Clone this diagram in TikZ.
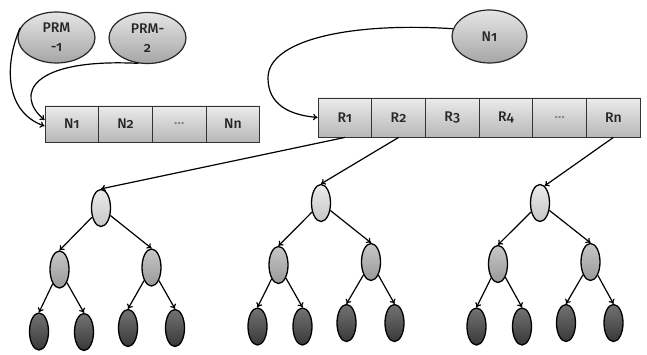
\documentclass[tikz,border=0pt]{standalone}
\usepackage{fontspec}
\setmainfont{Fira Sans}[Numbers=OldStyle, BoldFont={* Medium}]
\usetikzlibrary{arrows.meta,shapes.geometric}
\begin{document}
\begin{tikzpicture}[x=1pt,y=-1pt,
  txt/.style={font=\fontsize{14}{19}\selectfont\bfseries, text=black!85},
  bigell/.style={ellipse, draw=black!85, line width=1.2pt, top color=black!10, bottom color=black!35,
    inner sep=0pt, minimum width=77pt, minimum height=51pt, txt, align=center},
  cell/.style={rectangle, draw=black!80, line width=0.9pt, top color=black!8, bottom color=black!28,
    minimum width=53.7pt, inner sep=0pt, txt},
  tn/.style={ellipse, draw=black, line width=1.3pt, minimum width=19pt, minimum height=37pt, inner sep=0pt},
  lvA/.style={tn, top color=black!8, bottom color=black!22},
  lvB/.style={tn, top color=black!22, bottom color=black!40},
  lvC/.style={tn, top color=black!55, bottom color=black!78},
  arr/.style={-{To[length=4.5pt,width=6.5pt]}, line width=1.2pt, black}
]
\useasboundingbox (0,0) rectangle (647,355);

% top ellipses
\node[bigell] (prm1) at (56.5,37.5) {PRM\\-1};
\node[bigell] (prm2) at (147.5,38) {PRM-\\2};
\node[bigell, minimum width=75pt, minimum height=53pt] (nn) at (489.5,36.5) {N1};

% N array
\node[cell, minimum height=36pt] (c1) at (71.85,124) {N1};
\node[cell, minimum height=36pt] (c2) at (125.55,124) {N2};
\node[cell, minimum height=36pt, text=black!50] (c3) at (179.25,124) {\dots};
\node[cell, minimum height=36pt] (c4) at (232.95,124) {Nn};

% R array
\node[cell, minimum height=39pt] (r1) at (344.85,117.5) {R1};
\node[cell, minimum height=39pt] (r2) at (398.55,117.5) {R2};
\node[cell, minimum height=39pt] (r3) at (452.25,117.5) {R3};
\node[cell, minimum height=39pt] (r4) at (505.95,117.5) {R4};
\node[cell, minimum height=39pt, text=black!50] (r5) at (559.65,117.5) {\dots};
\node[cell, minimum height=39pt] (r6) at (613.35,117.5) {Rn};

% curved arrows
\draw[arr] (prm1.165) .. controls (4,65) and (5,112) .. (c1.west |- 0,126);
\draw[arr] (prm2.250) .. controls (30,58) and (15,95) .. (c1.west |- 0,120);
\draw[arr] (nn.168) .. controls (350,22) and (268,40) .. (268,78)
  .. controls (268,105) and (290,115) .. (r1.west);

% tree 1
\node[lvA] (a0) at (101,208) {};
\node[lvB] (a1) at (59.5,269.5) {};
\node[lvB] (a2) at (151.5,267.5) {};
\node[lvC] (a3) at (39,331.5) {};
\node[lvC] (a4) at (84,332) {};
\node[lvC] (a5) at (128,328) {};
\node[lvC] (a6) at (175,328) {};
% tree 2
\node[lvA] (b0) at (321,203) {};
\node[lvB] (b1) at (278.5,265) {};
\node[lvB] (b2) at (371,262) {};
\node[lvC] (b3) at (257.5,326.5) {};
\node[lvC] (b4) at (302.5,326.5) {};
\node[lvC] (b5) at (346.5,323) {};
\node[lvC] (b6) at (394.5,323) {};
% tree 3
\node[lvA] (d0) at (540,203) {};
\node[lvB] (d1) at (498,264) {};
\node[lvB] (d2) at (590.5,262) {};
\node[lvC] (d3) at (476.5,326.5) {};
\node[lvC] (d4) at (522,326.5) {};
\node[lvC] (d5) at (566,323) {};
\node[lvC] (d6) at (613.5,323) {};

\draw[arr] (r1.south) -- (a0.north);
\draw[arr] (r2.south) -- (b0.north);
\draw[arr] (r6.south) -- (d0.75);

\foreach \t in {a,b,d}{
  \draw[arr] (\t0) -- (\t1.north);
  \draw[arr] (\t0) -- (\t2.north);
  \draw[arr] (\t1) -- (\t3.north);
  \draw[arr] (\t1) -- (\t4.north);
  \draw[arr] (\t2) -- (\t5.north);
  \draw[arr] (\t2) -- (\t6.north);
}
\end{tikzpicture}
\end{document}
